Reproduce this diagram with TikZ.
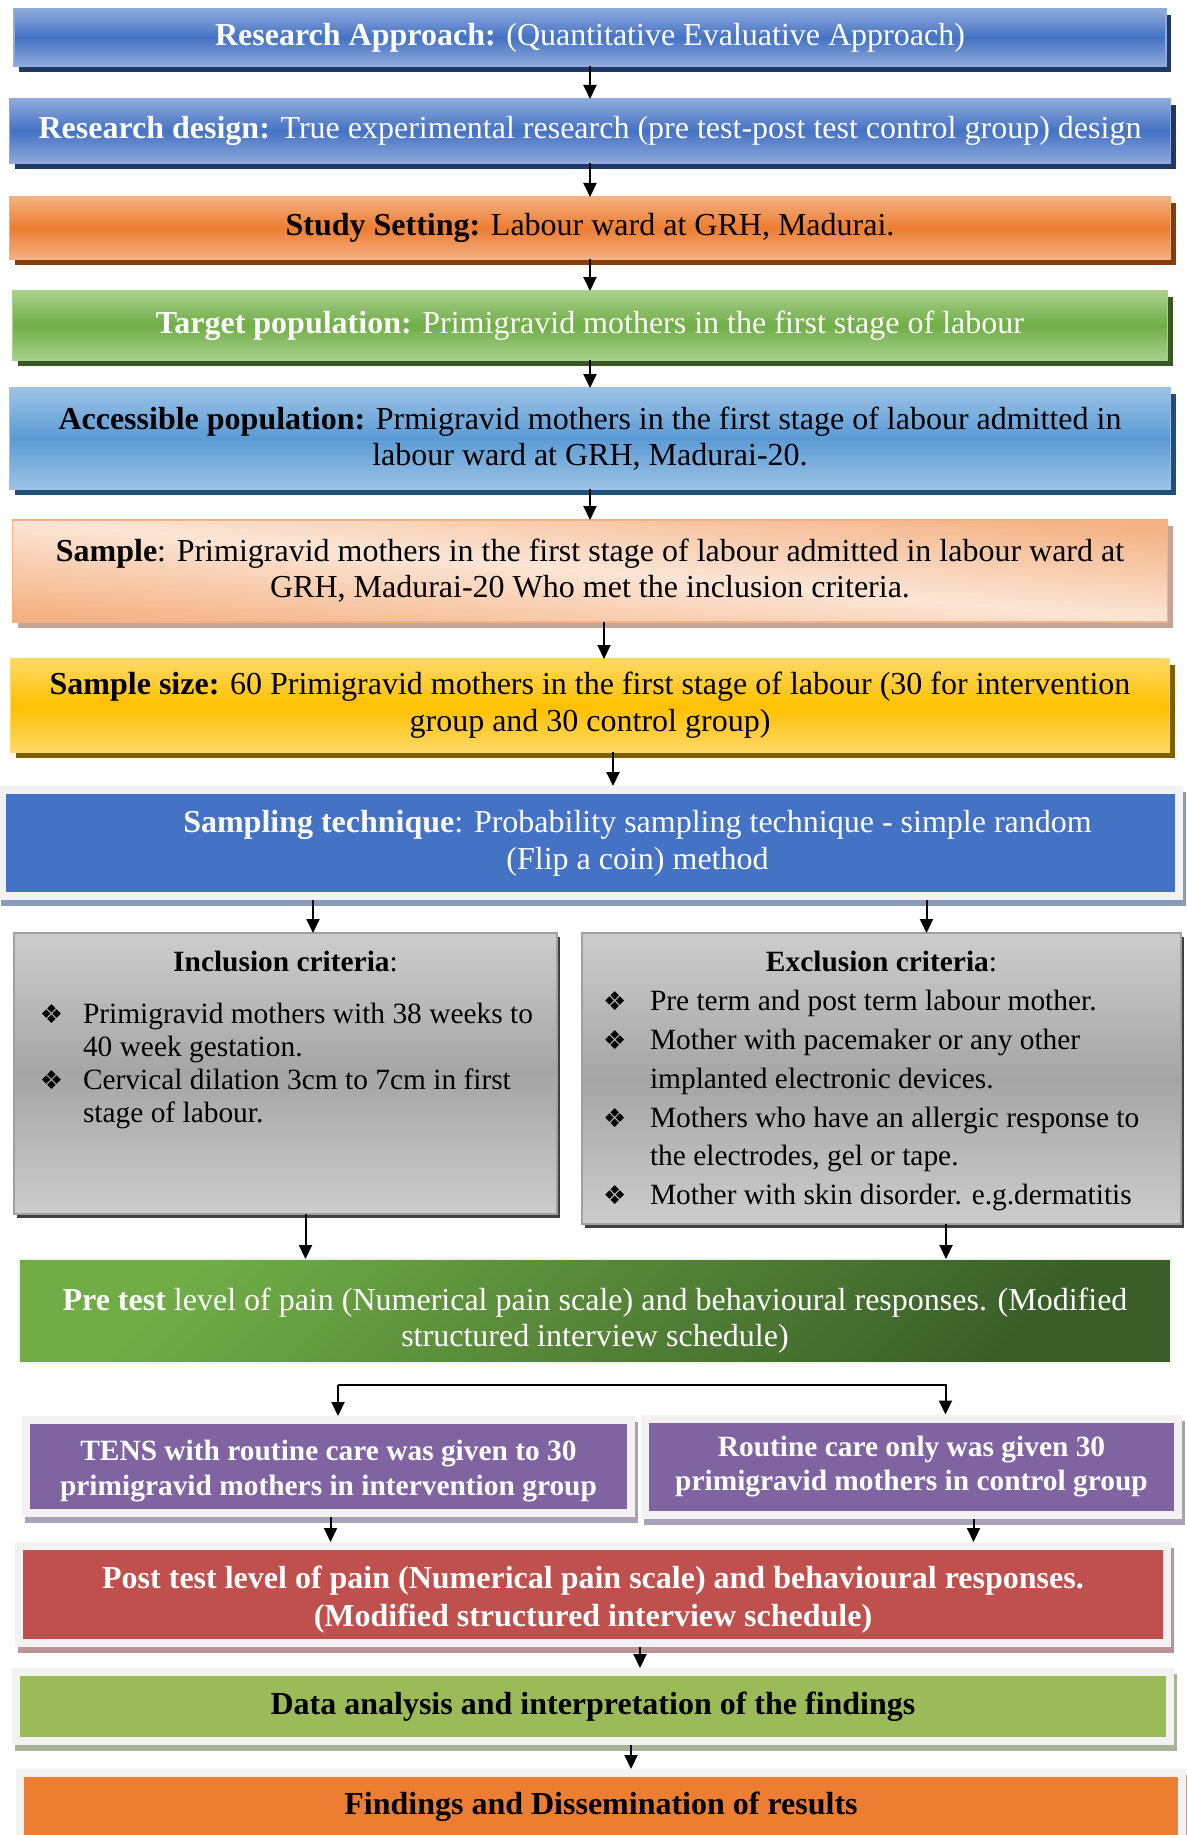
\documentclass[tikz,border=0pt]{standalone}
\usepackage{fontspec}
\setmainfont{Liberation Serif}
\newfontfamily\critsym{DejaVu Sans}
\usetikzlibrary{
  positioning,
  shadows,
  arrows.meta
}
\definecolor{blueL}{HTML}{8FAADC}
\definecolor{blueM}{HTML}{4472C4}
\definecolor{blueS}{HTML}{203864}
\definecolor{oranL}{HTML}{F4B183}
\definecolor{oranM}{HTML}{ED7D31}
\definecolor{oranS}{HTML}{843C0C}
\definecolor{greenL}{HTML}{A9D18E}
\definecolor{greenM}{HTML}{70AD47}
\definecolor{greenS}{HTML}{385723}
\definecolor{skyL}{HTML}{9DC3E6}
\definecolor{skyM}{HTML}{5B9BD5}
\definecolor{skyS}{HTML}{1F4E79}
\definecolor{peachL}{HTML}{FBE5D6}
\definecolor{peachD}{HTML}{F4B183}
\definecolor{peachS}{HTML}{C4A596}
\definecolor{goldL}{HTML}{FFD966}
\definecolor{goldM}{HTML}{FFC000}
\definecolor{goldS}{HTML}{7F6000}
\definecolor{grayL}{HTML}{CDCDCD}
\definecolor{grayM}{HTML}{A5A5A5}
\definecolor{grayB}{HTML}{A0A0A0}
\definecolor{grayS}{HTML}{404040}
\definecolor{frameG}{HTML}{F2F2F2}
\definecolor{pretestD}{HTML}{3A5E28}
\definecolor{sampS}{HTML}{8C9BBA}
\definecolor{tensP}{HTML}{8064A2}
\definecolor{tensS}{HTML}{A9A2B9}
\definecolor{postR}{HTML}{C0504D}
\definecolor{postS}{HTML}{B99596}
\definecolor{dataG}{HTML}{9BBB59}
\definecolor{dataS}{HTML}{A9B399}
\definecolor{findO}{HTML}{ED7D31}
\definecolor{findS}{HTML}{B9A396}

\newcommand{\critbullet}{{\critsym\fontsize{13}{13}\selectfont ❖}}
\newcommand{\crititem}[2]{\par\noindent\hangindent=#1\hangafter=1\makebox[#1][l]{\critbullet}#2}

\tikzset{
  box/.style={rectangle,align=center,inner sep=2pt,font=\fontsize{16}{18}\selectfont},
  gradbox/.style n args={3}{box,draw=#1,line width=0.6pt,outer sep=0pt,top color=#1,bottom color=#1,middle color=#2,
    drop shadow={shadow xshift=2.5pt,shadow yshift=-3pt,fill=#3,opacity=1}},
  framebox/.style 2 args={box,fill=#1,draw=frameG,line width=4pt,outer sep=2pt,
    drop shadow={shadow xshift=1.5pt,shadow yshift=-3pt,fill=#2,draw=#2,line width=4pt,opacity=1}},
  critbox/.style={rectangle,draw=grayB,line width=1pt,outer sep=0pt,top color=grayL,bottom color=grayL,middle color=grayM,
    inner xsep=0pt,inner ysep=9.25pt,drop shadow={shadow xshift=1.5pt,shadow yshift=-2pt,fill=grayS,opacity=1}},
  arr/.style={line width=1pt,-{Triangle[length=7pt,width=6.5pt]}}
}

\begin{document}
\begin{tikzpicture}
	\useasboundingbox (0,0) rectangle (593.5pt,-917.5pt);
		\node[gradbox={blueL}{blueM}{blueS},text=white,minimum width=576pt,minimum height=28.5pt] (approach) at (295pt,-18.75pt) {\textbf{Research Approach:} (Quantitative Evaluative Approach)};
		\node[gradbox={blueL}{blueM}{blueS},text=white,below=16.5pt of approach,minimum width=580.5pt,minimum height=32pt] (design) {\textbf{Research design:} True experimental research (pre test-post test control group) design};
		\node[gradbox={oranL}{oranM}{oranS},below=17pt of design,minimum width=580.5pt,minimum height=31pt] (setting) {\textbf{Study Setting:} Labour ward at GRH, Madurai.};
		\node[gradbox={greenL}{greenM}{greenS},text=white,below=16pt of setting,minimum width=577.5pt,minimum height=34.5pt] (target) {\textbf{Target population:} Primigravid mothers in the first stage of labour};
		\node[gradbox={skyL}{skyM}{skyS},below=14pt of target,minimum width=580.5pt,minimum height=50.5pt] (access) {\textbf{Accessible population:} Prmigravid mothers in the first stage of labour admitted in\\labour ward at GRH, Madurai-20.};
		\node[box,draw=peachD,line width=0.6pt,outer sep=0pt,top color=peachD,bottom color=peachD,middle color=peachL,shading angle=-5,
			drop shadow={shadow xshift=2.5pt,shadow yshift=-3pt,fill=peachS,opacity=1},
			below=15.5pt of access,minimum width=577.5pt,minimum height=51pt] (sample) {\textbf{Sample}: Primigravid mothers in the first stage of labour admitted in labour ward at\\GRH, Madurai-20 Who met the inclusion criteria.};
		\node[gradbox={goldL}{goldM}{goldS},font=\fontsize{16}{18.5}\selectfont,below=18.5pt of sample,minimum width=579.5pt,minimum height=46.5pt] (size) {\textbf{Sample size:} 60 Primigravid mothers in the first stage of labour (30 for intervention\\group and 30 control group)};
		\node[framebox={blueM}{sampS},text=white,font=\fontsize{16}{18.5}\selectfont,below=17pt of size,minimum width=588.5pt,minimum height=53pt] (technique) {\hspace*{47.5pt}\textbf{Sampling technique}: Probability sampling technique - simple random\\\hspace*{47.5pt}(Flip a coin) method};
		\node[critbox,font=\fontsize{14.7}{16.6}\selectfont,below right=16.5pt and 8.25pt of technique.south west] (incl) {\makebox[271.5pt][l]{\hspace*{13pt}\parbox[c][122pt][t]{245.5pt}{%
			{\centering\textbf{Inclusion criteria}:\par}\vspace{9pt}%
			\crititem{21.5pt}{\mbox{Primigravid mothers with 38 weeks to}\newline 40 week gestation.}%
			\crititem{21.5pt}{\mbox{Cervical dilation 3cm to 7cm in first}\newline stage of labour.}}}};
		\node[critbox,font=\fontsize{14.7}{19.4}\selectfont,below left=16.5pt and 0.75pt of technique.south east] (excl) {\makebox[299.5pt][l]{\hspace*{10.5pt}\parbox[c][127pt][t]{278.5pt}{%
			{\centering\textbf{Exclusion criteria}:\par}%
			\crititem{23.5pt}{Pre term and post term labour mother.}%
			\crititem{23.5pt}{\mbox{Mother with pacemaker or any other}\newline implanted electronic devices.}%
			\crititem{23.5pt}{\mbox{Mothers who have an allergic response to}\newline the electrodes, gel or tape.}%
			\crititem{23.5pt}{Mother with skin disorder. e.g.dermatitis}}}};
		\node[box,draw=frameG,line width=1pt,outer sep=0pt,top color=greenM,bottom color=pretestD,shading angle=45,text=white,
			below right=22.5pt and 2.5pt of incl.south west,minimum width=576pt,minimum height=52pt] (pre) {\rule{0pt}{21.2pt}\textbf{Pre test} level of pain (Numerical pain scale) and behavioural responses. (Modified\\structured interview schedule)};
		\node[framebox={tensP}{tensS},text=white,font=\bfseries\fontsize{14.7}{17.5}\selectfont,below right=26.5pt and 1.5pt of pre.south west,minimum width=302.5pt,minimum height=46.5pt] (tens) {\rule{0pt}{15pt}TENS with routine care was given to 30\\primigravid mothers in intervention group};
		\node[framebox={tensP}{tensS},text=white,font=\bfseries\fontsize{14.7}{17}\selectfont,right=3pt of tens,minimum width=266.5pt,minimum height=48pt] (routine) {Routine care only was given 30\\primigravid mothers in control group};
		\node[framebox={postR}{postS},text=white,font=\bfseries\fontsize{16}{19}\selectfont,below right=12.5pt and -3.5pt of tens.south west,minimum width=574pt,minimum height=48.5pt] (post) {\rule{0pt}{16.1pt}Post test level of pain (Numerical pain scale) and behavioural responses.\\(Modified structured interview schedule)};
		\node[framebox={dataG}{dataS},font=\bfseries\fontsize{16}{18}\selectfont,below=10.5pt of post,minimum width=577pt,minimum height=34.5pt] (data) {Data analysis and interpretation of the findings};
		\node[framebox={findO}{findS},font=\bfseries\fontsize{16}{18}\selectfont,below=12pt of data,xshift=4pt,minimum width=581pt,minimum height=34pt] (find) {Findings and Dissemination of results};

		\draw[arr] (approach) -- (design);
		\draw[arr] (design) -- (setting);
		\draw[arr] (setting) -- (target);
		\draw[arr] (target) -- (access);
		\draw[arr] (access) -- (sample);
		\coordinate (a6) at ([xshift=7pt]sample.south);
		\draw[arr] (a6) -- (a6 |- size.north);
		\coordinate (a7) at ([xshift=11.5pt]size.south);
		\draw[arr] (a7) -- (a7 |- technique.north);
		\coordinate (a8) at ([xshift=13.75pt]incl.north);
		\draw[arr] (a8 |- technique.south) -- (a8);
		\coordinate (a9) at ([xshift=22.5pt]excl.north);
		\draw[arr] (a9 |- technique.south) -- (a9);
		\coordinate (a10) at ([xshift=10pt]incl.south);
		\draw[arr] (a10) -- (a10 |- pre.north);
		\coordinate (a11) at ([xshift=32.25pt]excl.south);
		\draw[arr] (a11) -- (a11 |- pre.north);
		\coordinate (tensin) at ([xshift=4.75pt]tens.north);
		\coordinate (routin) at ([xshift=17pt]routine.north);
		\coordinate (fork) at ([yshift=15.5pt]tensin);
		\draw[arr] (fork) -- (tensin);
		\draw[arr] (fork) -| (routin);
		\coordinate (a12) at ([xshift=1pt]tens.south);
		\draw[arr] (a12) -- (a12 |- post.north);
		\coordinate (a13) at ([xshift=31pt]routine.south);
		\draw[arr] (a13) -- (a13 |- post.north);
		\coordinate (a14) at ([xshift=23.5pt]post.south);
		\draw[arr] (a14) -- (a14 |- data.north);
		\coordinate (a15) at ([xshift=19pt]data.south);
		\draw[arr] (a15) -- (a15 |- find.north);
	\end{tikzpicture}
\end{document}
